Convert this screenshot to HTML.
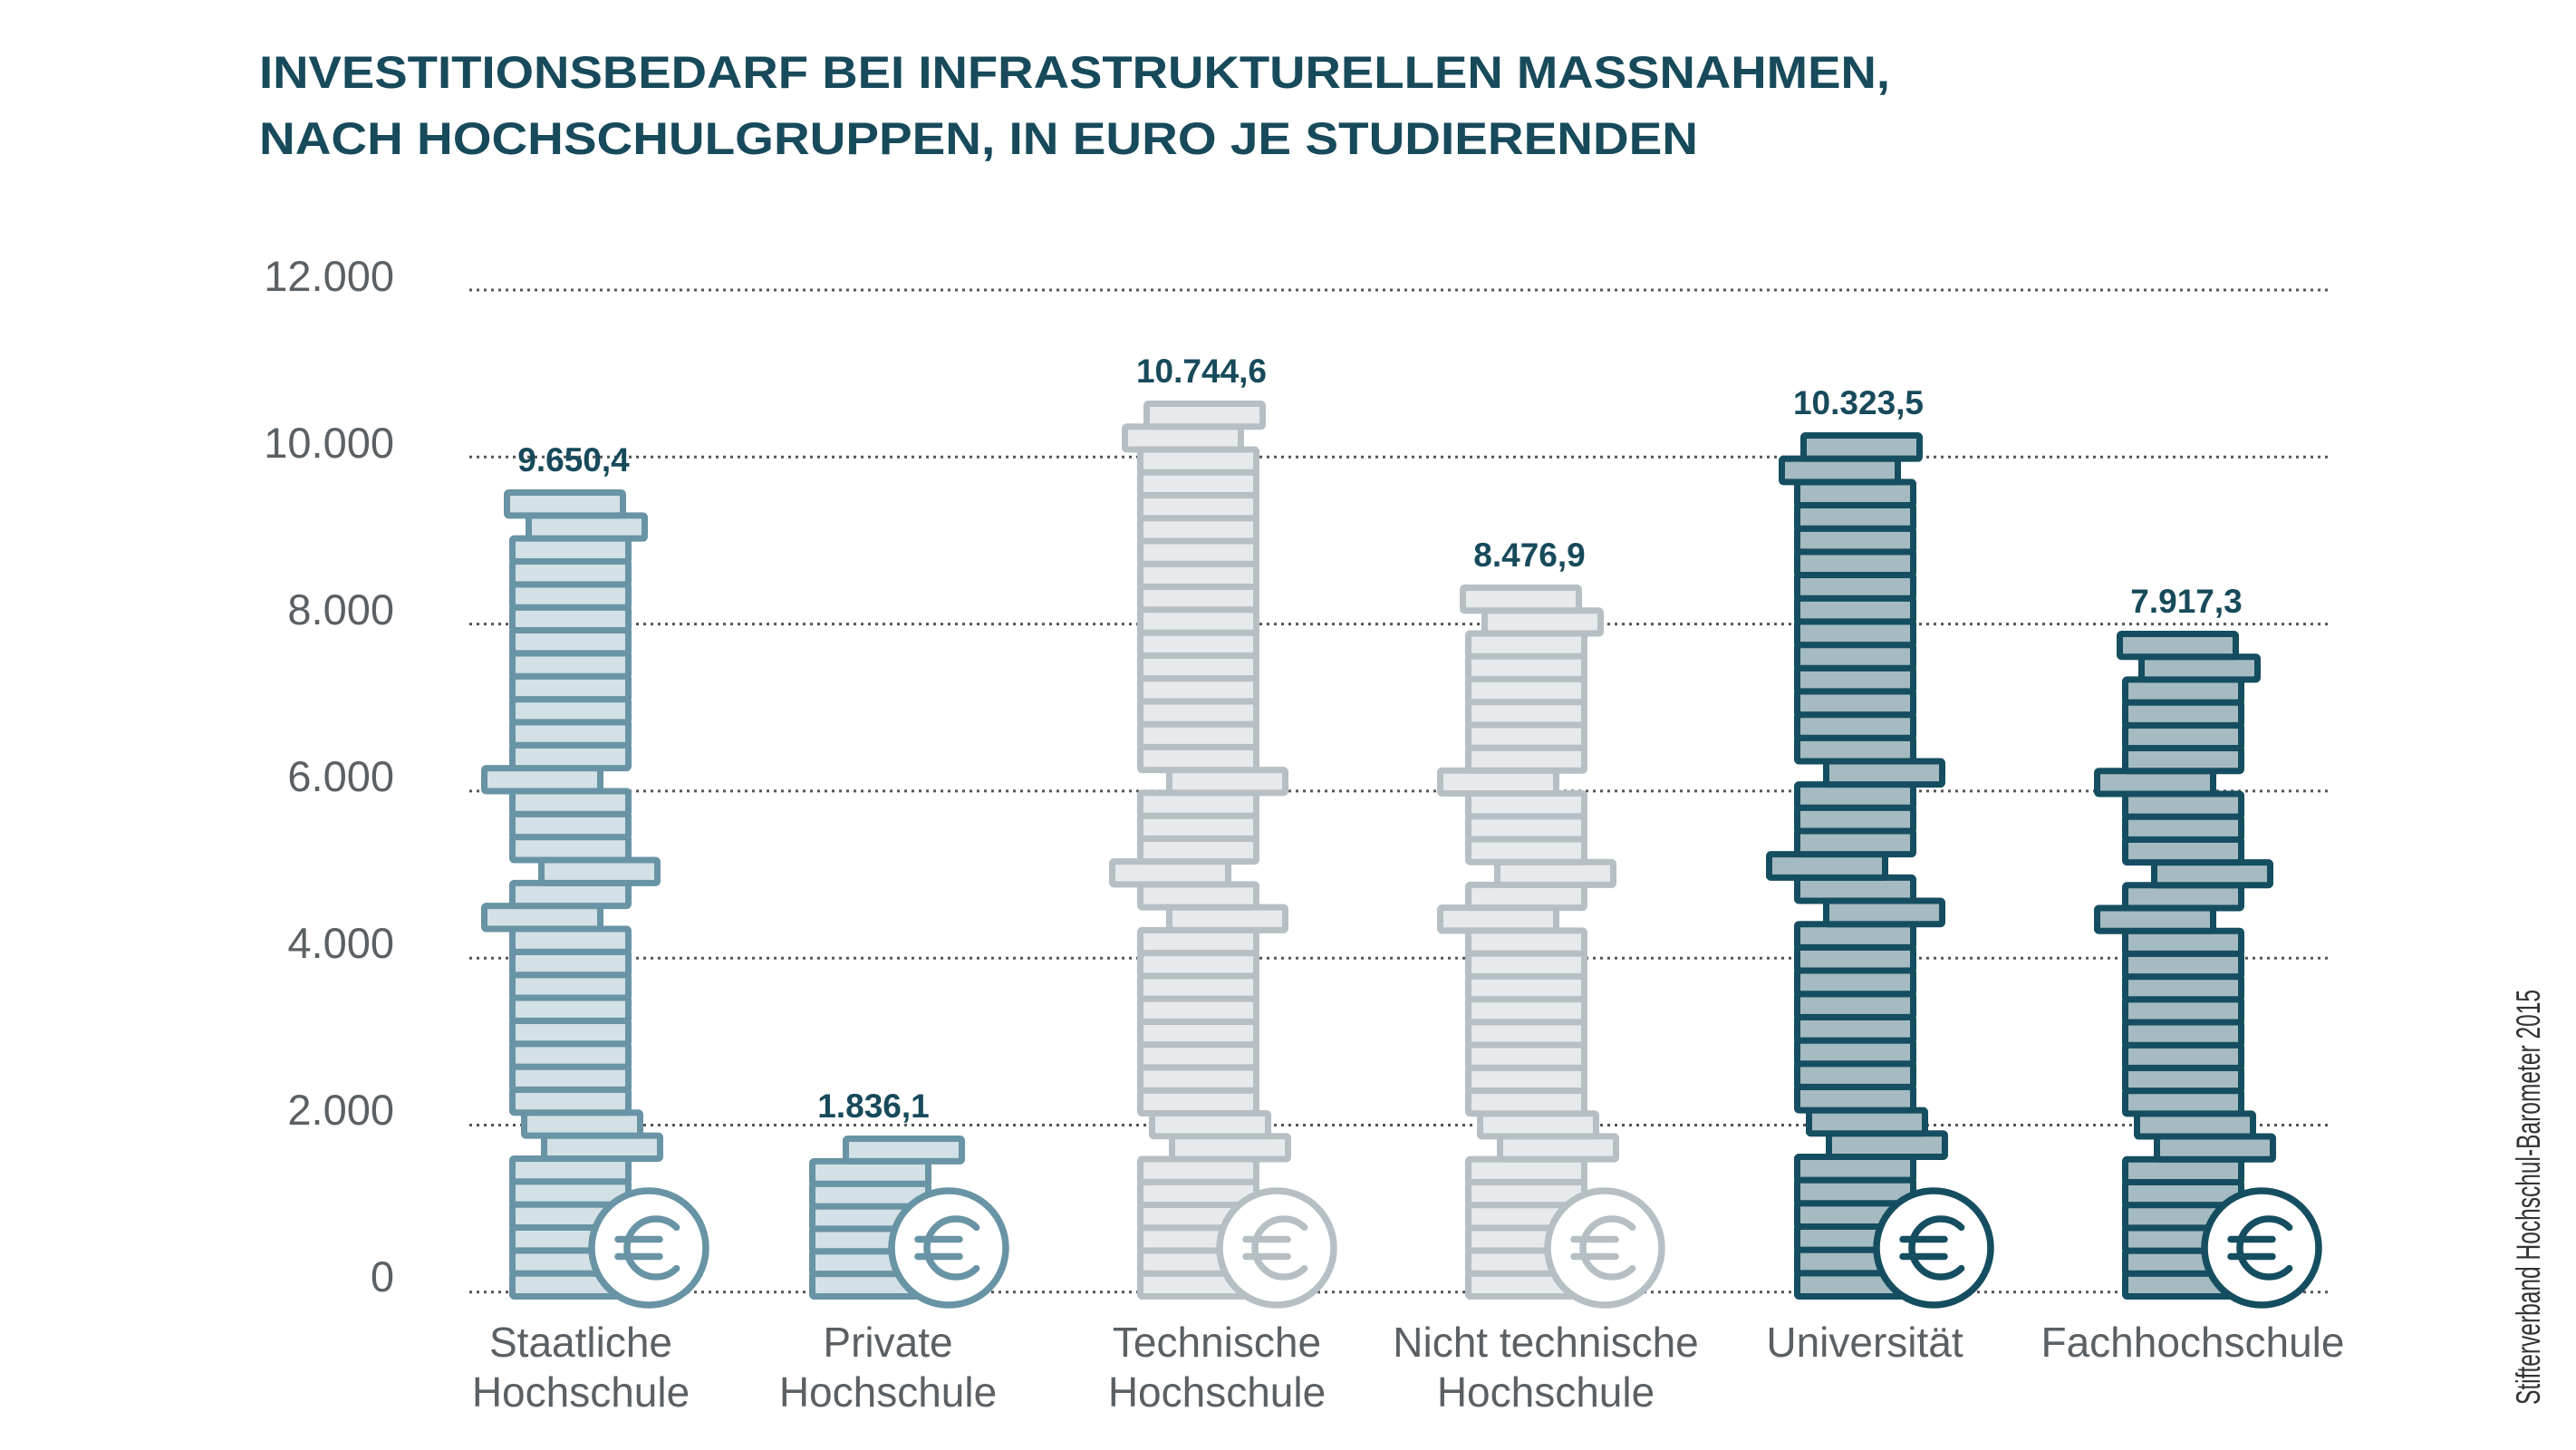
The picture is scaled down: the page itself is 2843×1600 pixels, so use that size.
<!DOCTYPE html>
<html><head><meta charset="utf-8"><style>
html,body{margin:0;padding:0;background:#fff}
svg{display:block}
</style></head><body>
<svg id="s" width="2843" height="1600" viewBox="0 0 2843 1600" xmlns="http://www.w3.org/2000/svg">
<rect width="2843" height="1600" fill="#fff"/>
<g font-family="Liberation Sans, sans-serif" font-weight="bold" fill="#174a5b" font-size="50">
<text x="286" y="97" textLength="1800" lengthAdjust="spacingAndGlyphs">INVESTITIONSBEDARF BEI INFRASTRUKTURELLEN MASSNAHMEN,</text>
<text x="286" y="170" textLength="1588" lengthAdjust="spacingAndGlyphs">NACH HOCHSCHULGRUPPEN, IN EURO JE STUDIERENDEN</text>
</g>
<g id="grid"></g>
<g font-family="Liberation Sans, sans-serif" fill="#5a6064" font-size="47" text-anchor="end">
<text x="435" y="321">12.000</text>
<text x="435" y="505">10.000</text>
<text x="435" y="689">8.000</text>
<text x="435" y="873">6.000</text>
<text x="435" y="1057">4.000</text>
<text x="435" y="1241">2.000</text>
<text x="435" y="1425">0</text>
</g>
<g id="stacks"></g>
<g font-family="Liberation Sans, sans-serif" fill="#5a6064" font-size="46" text-anchor="middle">
<text x="641" y="1497">Staatliche</text><text x="641" y="1552">Hochschule</text>
<text x="980" y="1497">Private</text><text x="980" y="1552">Hochschule</text>
<text x="1343" y="1497">Technische</text><text x="1343" y="1552">Hochschule</text>
<text x="1706" y="1497">Nicht technische</text><text x="1706" y="1552">Hochschule</text>
<text x="2058" y="1497">Universität</text>
<text x="2420" y="1497">Fachhochschule</text>
</g>
<text transform="translate(2803,1550) rotate(-90)" font-family="Liberation Sans, sans-serif" font-size="37" fill="#333" textLength="458" lengthAdjust="spacingAndGlyphs">Stifterverband Hochschul-Barometer 2015</text>
</svg>
<script>
var NS="http://www.w3.org/2000/svg";
function el(t,a,p){var e=document.createElementNS(NS,t);for(var k in a)e.setAttribute(k,a[k]);p.appendChild(e);return e;}
var g=document.getElementById('grid');
for(var k=0;k<7;k++){var y=320+k*184.3;el('line',{x1:518,x2:2572,y1:y,y2:y,stroke:'#555',"stroke-width":3,"stroke-dasharray":"3 5"},g);}
var st=document.getElementById('stacks');
var A=function(n){var o={6:35,7:13,16:-31,18:32,22:-31};o[n-2]=18;o[n-1]=-6;return o;};
var B=function(n){var o={6:35,7:13,16:32,18:-31,22:32};o[n-2]=-17;o[n-1]=7;return o;};
var S=[
 {mx:562,n:35,top:540,off:A(35),s:'#6894a5',f:'#d3e0e5',lab:'9.650,4'},
 {mx:893,n:7,top:1253,off:{6:37},s:'#6894a5',f:'#d3e0e5',lab:'1.836,1'},
 {mx:1255,n:39,top:442,off:B(39),s:'#b6bfc4',f:'#e7eaec',lab:'10.744,6'},
 {mx:1617,n:31,top:645,off:A(31),s:'#b6bfc4',f:'#e7eaec',lab:'8.476,9'},
 {mx:1980,n:37,top:477,off:B(37),s:'#154e60',f:'#a5bbc1',lab:'10.323,5'},
 {mx:2342,n:29,top:696,off:A(29),s:'#154e60',f:'#a5bbc1',lab:'7.917,3'}
];
S.forEach(function(c){
 var bottom=1427, p=(bottom-c.top)/c.n;
 for(var i=0;i<c.n;i++){
  var dx=c.off[i]||0;
  var y=bottom-(i+1)*p+3.5;
  el('rect',{x:c.mx+dx+3.5,y:y,width:128,height:p,rx:2,fill:c.f,stroke:c.s,"stroke-width":7},st);
 }
 var cx=c.mx+154,cy=1377;
 el('circle',{cx:cx,cy:cy,r:63,fill:'#fff',stroke:c.s,"stroke-width":7.5},st);
 var ax=cx+8,r=32,d=r*0.707;
 el('path',{d:'M'+(ax+d)+' '+(cy-d)+' A'+r+' '+r+' 0 1 0 '+(ax+d)+' '+(cy+d),fill:'none',stroke:c.s,"stroke-width":7.5,"stroke-linecap":"round"},st);
 el('line',{x1:cx-34,x2:cx+12,y1:cy-9.5,y2:cy-9.5,stroke:c.s,"stroke-width":7.5,"stroke-linecap":"round"},st);
 el('line',{x1:cx-34,x2:cx+12,y1:cy+9.5,y2:cy+9.5,stroke:c.s,"stroke-width":7.5,"stroke-linecap":"round"},st);
 var t=el('text',{x:c.mx+71,y:c.top-20,"text-anchor":"middle","font-family":"Liberation Sans, sans-serif","font-weight":"bold","font-size":37,fill:'#174a5b'},st);
 t.textContent=c.lab;
});
</script>
</body></html>
